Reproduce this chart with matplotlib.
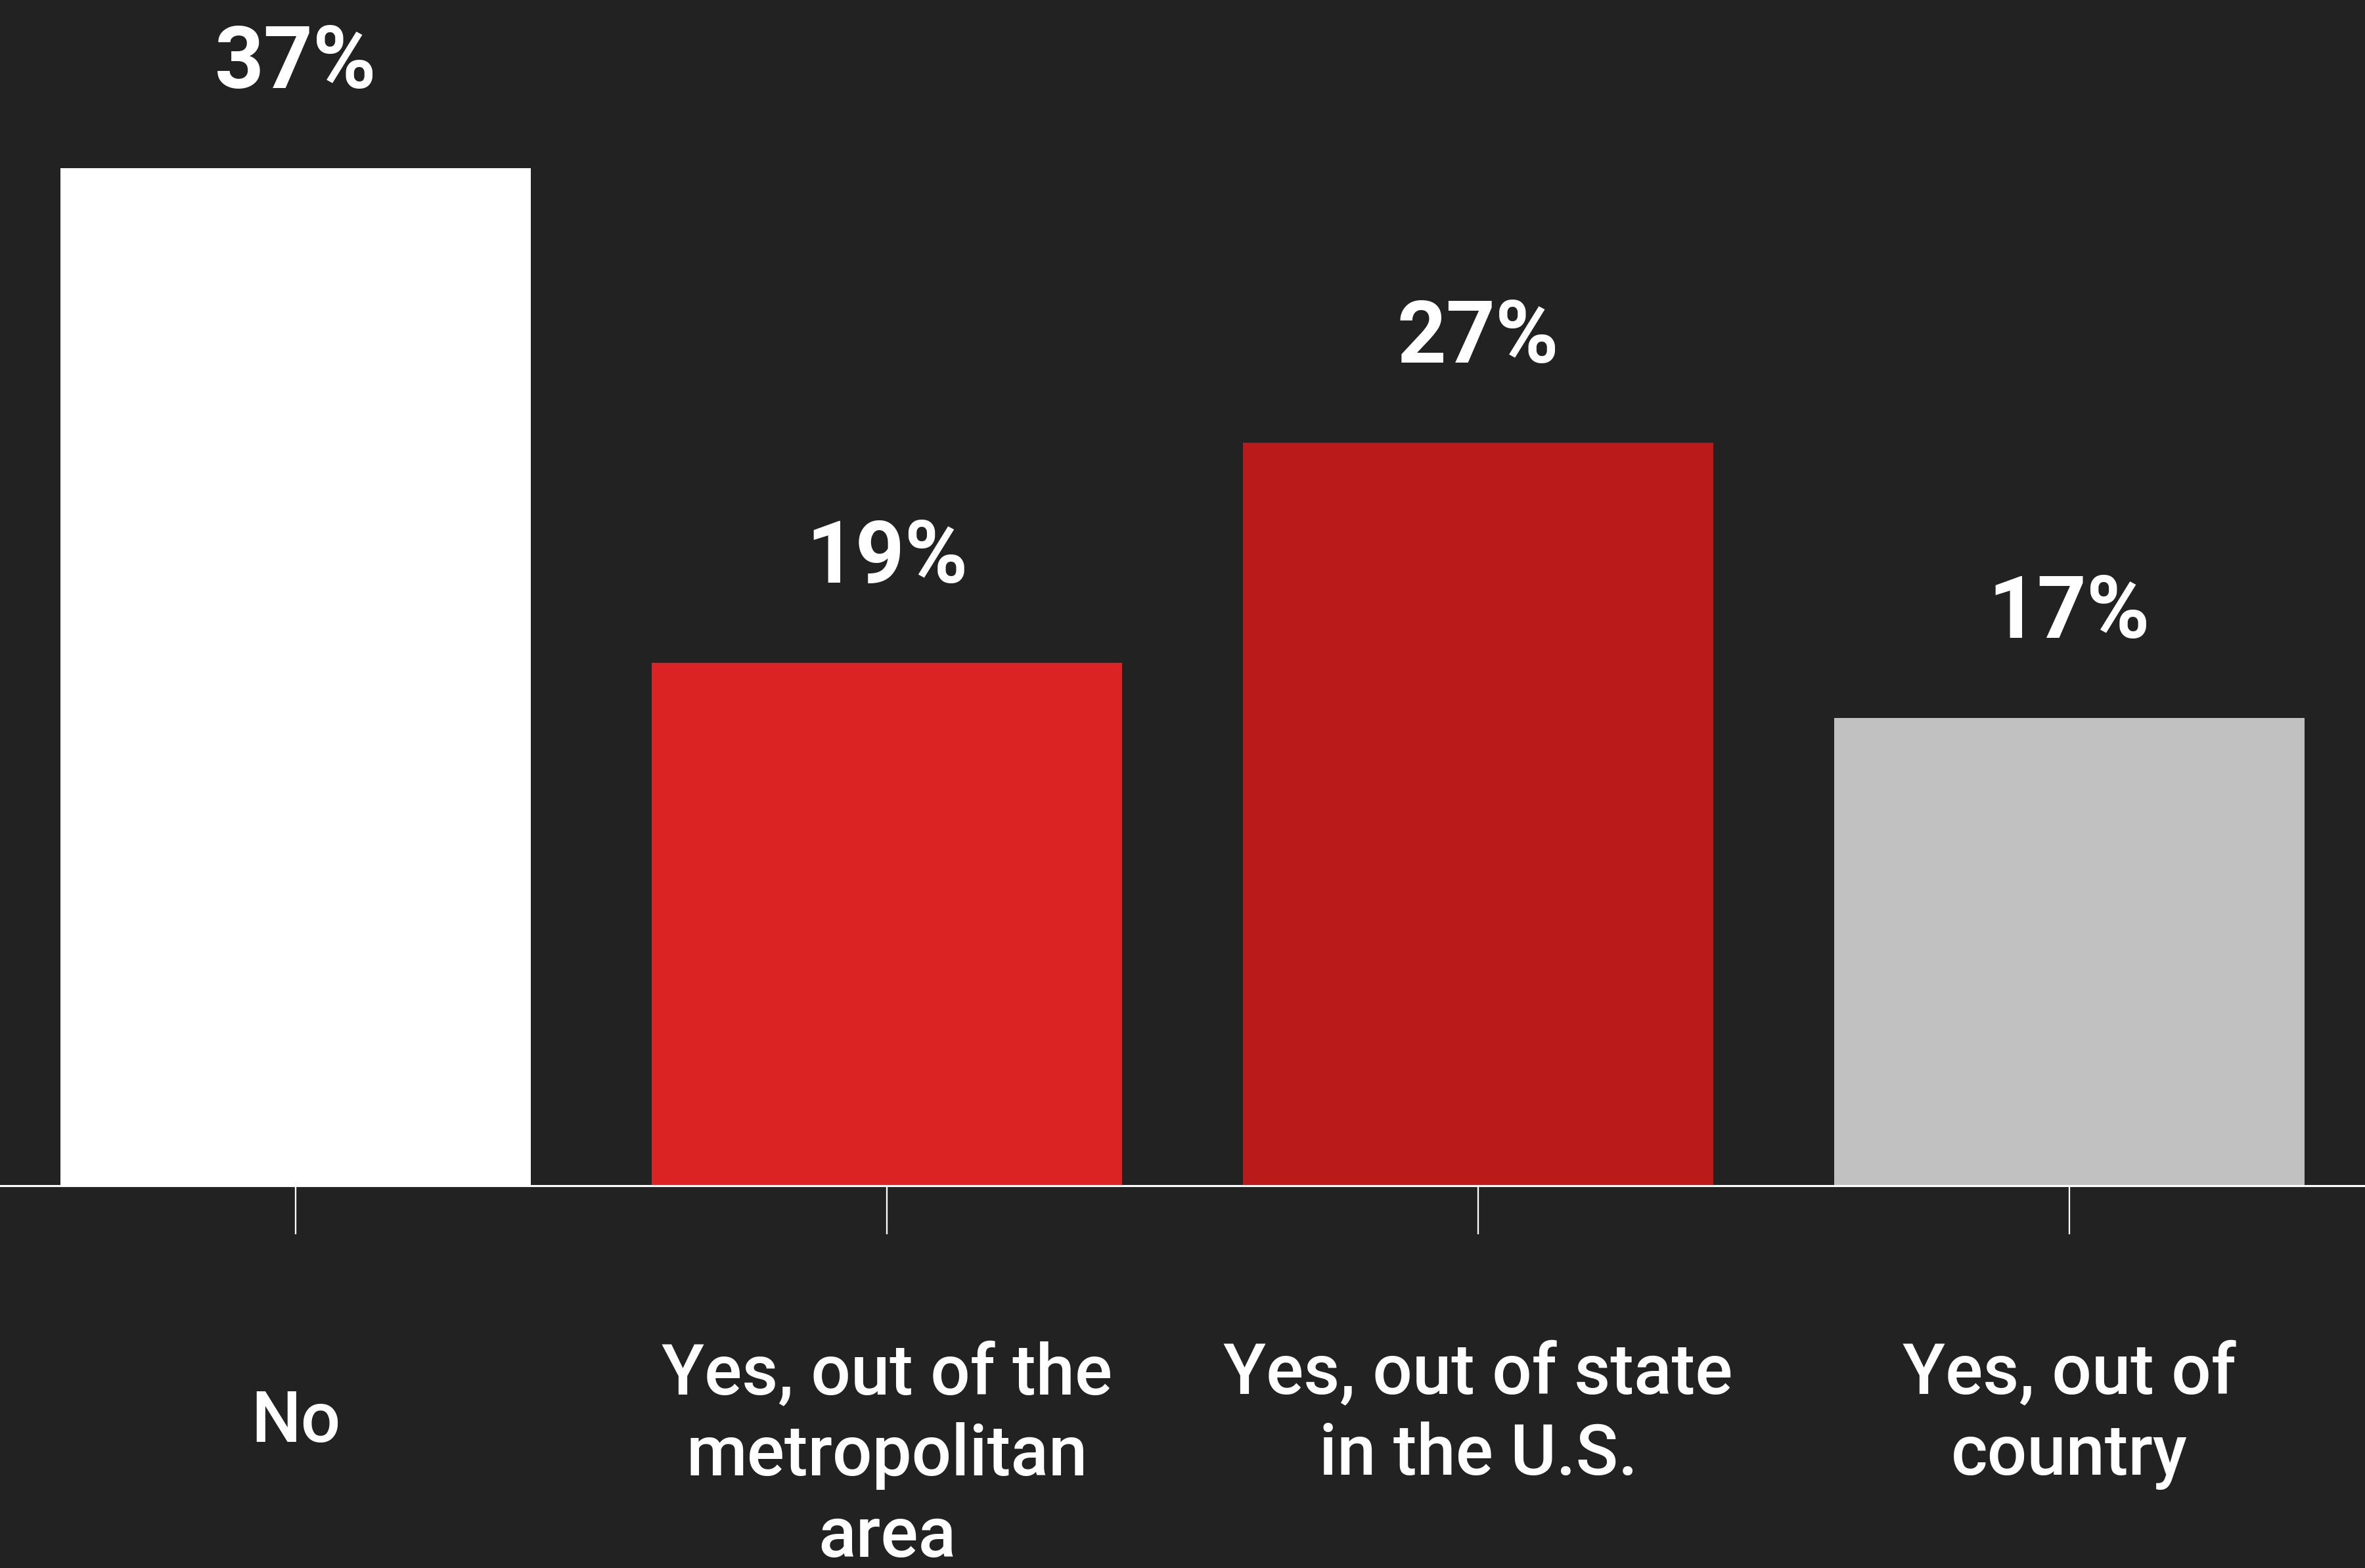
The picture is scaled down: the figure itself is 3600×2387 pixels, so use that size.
import matplotlib.pyplot as plt
import matplotlib.transforms as mtransforms

# survey answers and shares (%)
categories = ["No", "Yes, out of the\nmetropolitan\narea",
              "Yes, out of state\nin the U.S.", "Yes, out of\ncountry"]
shares = [37, 19, 27, 17]
value_labels = ["37%", "19%", "27%", "17%"]
bar_colors = ["#FFFFFF", "#DC2323", "#BA1A1A", "#C1C1C1"]

bg = "#222222"
W, H, DPI = 3600, 2387, 300
base_px = 1804.5          # baseline, pixels from top
px_per_unit = 41.86
line_px = 125             # line pitch of category labels

plt.rcParams['font.family'] = ['Roboto', 'DejaVu Sans']

fig = plt.figure(figsize=(W / DPI, H / DPI), dpi=DPI, facecolor=bg)
ax = fig.add_axes([0, 1 - base_px / H, 1, base_px / H])
ax.set_facecolor(bg)

x = list(range(len(categories)))
ax.bar(x, shares, width=0.795, color=bar_colors, zorder=2)
ax.set_xlim(-0.5, 3.5)
ax.set_ylim(0, base_px / px_per_unit)

for xi, v, lab in zip(x, shares, value_labels):
    ax.annotate(lab, (xi, v), xytext=(0, 122 * 72 / DPI), textcoords="offset points",
                ha="center", va="baseline", color="white", fontsize=31.4,
                fontweight="bold")

for s in ["top", "right", "left"]:
    ax.spines[s].set_visible(False)
ax.spines["bottom"].set_color("white")
ax.spines["bottom"].set_linewidth(0.75)
ax.spines["bottom"].set_zorder(3)

ax.set_yticks([])
ax.set_xticks(x)
ax.set_xticklabels([])
ax.tick_params(axis="x", length=17.8, width=0.55, color="white", direction="out")

# category labels under the ticks (multi-line ones start higher)
trans = mtransforms.blended_transform_factory(ax.transData, fig.transFigure)
for xi, cat in zip(x, categories):
    n = cat.count("\n")
    first_px = 2120 if n else 2195
    last_px = first_px + n * line_px
    ax.text(xi, 1 - last_px / H, cat, transform=trans,
            ha="center", va="baseline", multialignment="center", color="white",
            fontsize=25.6, fontweight="medium", linespacing=1.26)

fig.savefig("out.png", dpi=DPI, facecolor=bg)
